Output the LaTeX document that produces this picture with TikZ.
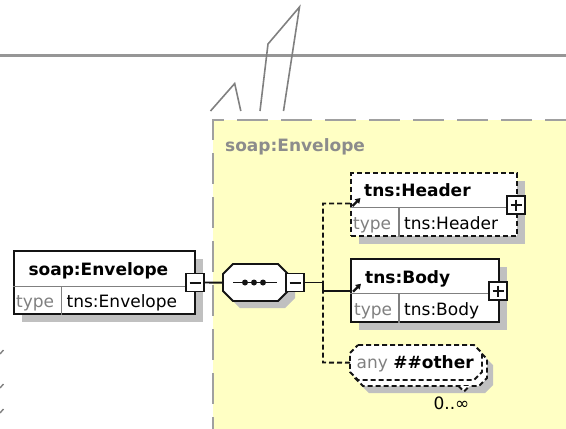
\documentclass[tikz,border=0pt]{standalone}
\usepackage{fontspec}
\setmainfont{DejaVu Sans}
\usetikzlibrary{calc,shadows,arrows.meta}

\definecolor{panelfill}{RGB}{255,255,196}
\definecolor{panelgrey}{RGB}{160,160,160}
\definecolor{rulegrey}{RGB}{150,150,150}
\definecolor{strokegrey}{RGB}{128,128,128}
\definecolor{shadowgrey}{RGB}{192,192,192}
\definecolor{typegrey}{RGB}{128,128,128}
\definecolor{labelgrey}{RGB}{140,140,140}
\definecolor{inkline}{RGB}{20,20,20}

% octagon outline from its corners (x1,y1) (x2,y2) and chamfer c
\newcommand{\octo}[5]{(#1+#5,#2) -- (#3-#5,#2) -- (#3,#2+#5) -- (#3,#4-#5) -- (#3-#5,#4) -- (#1+#5,#4) -- (#1,#4-#5) -- (#1,#2+#5) -- cycle}

\begin{document}
\begin{tikzpicture}[x=1pt,y=-1pt,
  font=\fontsize{17}{20}\selectfont,
  box/.style={draw=inkline, line width=2pt, fill=white, inner sep=0pt, anchor=north west,
    general shadow={fill=shadowgrey, shadow xshift=8pt, shadow yshift=-8pt}},
  dbox/.style={box, dash pattern=on 5pt off 3pt},
  frame/.style={inner sep=0pt, anchor=north west},
  toggle/.style={draw=inkline, line width=1.9pt, fill=white, minimum size=18pt, inner sep=0pt},
  glyph/.style={draw=inkline, line width=2pt},
  divider/.style={draw=typegrey, line width=1.2pt},
  wire/.style={draw=inkline, line width=1.9pt},
  dwire/.style={wire, dash pattern=on 5pt off 3pt},
  nametext/.style={anchor=base west, inner sep=0pt, font=\fontsize{17}{20}\selectfont\bfseries},
  typetext/.style={anchor=base west, inner sep=0pt, text=typegrey},
  valtext/.style={anchor=base west, inner sep=0pt},
  refarrow/.style={draw=inkline, line width=2.2pt, -{Triangle[length=5pt,width=6pt]}},
  octline/.style={draw=inkline, line width=1.9pt, fill=white},
  doctline/.style={octline, dash pattern=on 5pt off 3pt},
]
\useasboundingbox (0,0) rectangle (566,429);

% yellow content panel with its dashed grey edge
\fill[panelfill] (213,120) rectangle (567,430);
\draw[panelgrey, line width=2.5pt, dash pattern=on 31pt off 13pt, dash phase=19pt]
  (213,429) -- (213,120) -- (567,120);

% horizontal rule and the stray strokes above the panel
\draw[rulegrey, line width=3pt] (0,55.5) -- (566,55.5);
\draw[strokegrey, line width=1.6pt] (210.5,111) -- (234.7,83.5) -- (240.8,111);
\draw[strokegrey, line width=1.6pt] (260,111) -- (268,44) -- (299.5,7) -- (283.5,111);
\draw[strokegrey, line width=1.4pt] (0,354) -- (3.5,350);
\draw[strokegrey, line width=1.4pt] (0,388) -- (3.5,384);
\draw[strokegrey, line width=1.4pt] (0,413) -- (3.5,409);

\node[nametext, text=labelgrey] (paneltitle) at (225,151.5) {soap:Envelope};

% ---- root element soap:Envelope
\node[box, minimum width=181.5pt, minimum height=63pt] (env) at (12.5,250) {};
\draw[divider] ($(env.north west)+(0,36.5)$) -- ($(env.north east)+(0,36.5)$);
\draw[divider] ($(env.north west)+(49,36.5)$) -- ($(env.south west)+(49,0)$);
\node[nametext] (envname) at (28.3,275) {soap:Envelope};
\node[typetext] (envtype) at (16,307) {type};
\node[valtext] (envval) at (66.5,307) {tns:Envelope};
\node[toggle] (envtog) at (195,282.5) {};
\draw[glyph] ($(envtog.center)+(-5.5,0)$) -- ++(11,0);

% ---- sequence compositor
\node[frame, minimum width=65pt, minimum height=37pt] (comp) at (223,264) {};
\fill[shadowgrey] \octo{230}{271}{295}{308}{10};
\path[octline] \octo{223}{264}{288}{301}{10};
\draw[wire] (233,282.5) -- (277,282.5);
\fill[inkline] (245,282.5) circle (3) (254,282.5) circle (3) (263,282.5) circle (3);
\node[toggle] (comptog) at (295,282.5) {};
\draw[glyph] ($(comptog.center)+(-5.5,0)$) -- ++(11,0);
\draw[wire] (envtog.east) -- (comp.west);

% ---- child tns:Header (optional)
\node[dbox, minimum width=166pt, minimum height=62.5pt] (header) at (350,172) {};
\draw[divider] ($(header.north west)+(0,35.5)$) -- ($(header.north east)+(0,35.5)$);
\draw[divider] ($(header.north west)+(49,35.5)$) -- ($(header.south west)+(49,0)$);
\node[nametext] (headname) at (364,196) {tns:Header};
\node[typetext] (headtype) at (353,229.5) {type};
\node[valtext] (headval) at (404,229.5) {tns:Header};
\draw[refarrow] ($(header.north west)+(2.5,34)$) -- ++(8,-8);
\node[toggle] (headtog) at (516,205) {};
\draw[glyph] ($(headtog.center)+(-5.5,0)$) -- ++(11,0);
\draw[glyph] ($(headtog.center)+(0,-5.5)$) -- ++(0,11);

% ---- child tns:Body
\node[box, minimum width=148pt, minimum height=62.5pt] (body) at (350,258.3) {};
\draw[divider] ($(body.north west)+(0,35.5)$) -- ($(body.north east)+(0,35.5)$);
\draw[divider] ($(body.north west)+(49,35.5)$) -- ($(body.south west)+(49,0)$);
\node[nametext] (bodyname) at (365,283) {tns:Body};
\node[typetext] (bodytype) at (354,315.5) {type};
\node[valtext] (bodyval) at (404,315.5) {tns:Body};
\draw[refarrow] ($(body.north west)+(3,33.4)$) -- ++(8,-8);
\node[toggle] (bodytog) at (498,291) {};
\draw[glyph] ($(bodytog.center)+(-5.5,0)$) -- ++(11,0);
\draw[glyph] ($(bodytog.center)+(0,-5.5)$) -- ++(0,11);

% ---- wildcard any ##other, 0..unbounded
\node[frame, minimum width=132pt, minimum height=35pt] (any) at (350,345) {};
\fill[shadowgrey] \octo{361}{357}{493}{393}{8};
\path[doctline] \octo{355}{351}{487}{386}{8};
\path[doctline] (458.5,386) -- (464,391.5) -- (469.5,386);
\path[doctline] \octo{350}{345}{482}{380}{8};
\node[valtext] (anytext) at (356.5,368.5) {\textcolor{typegrey}{any} \textbf{\#\#other}};
\node[anchor=base, inner sep=0pt] (occurs) at (451.5,409) {0..∞};

% ---- connectors from the compositor to its children
\coordinate (fork) at (323,282.5);
\coordinate (trunktop) at (323,203.5);
\coordinate (trunkbot) at (323,362.5);
\draw[wire] (comptog.east) -- (fork) |- ($(body.north west)+(0,32.5)$);
\draw[dwire] (header.north west |- trunktop) -- (trunktop) -- (trunkbot) -- (any.west);

\end{tikzpicture}
\end{document}
